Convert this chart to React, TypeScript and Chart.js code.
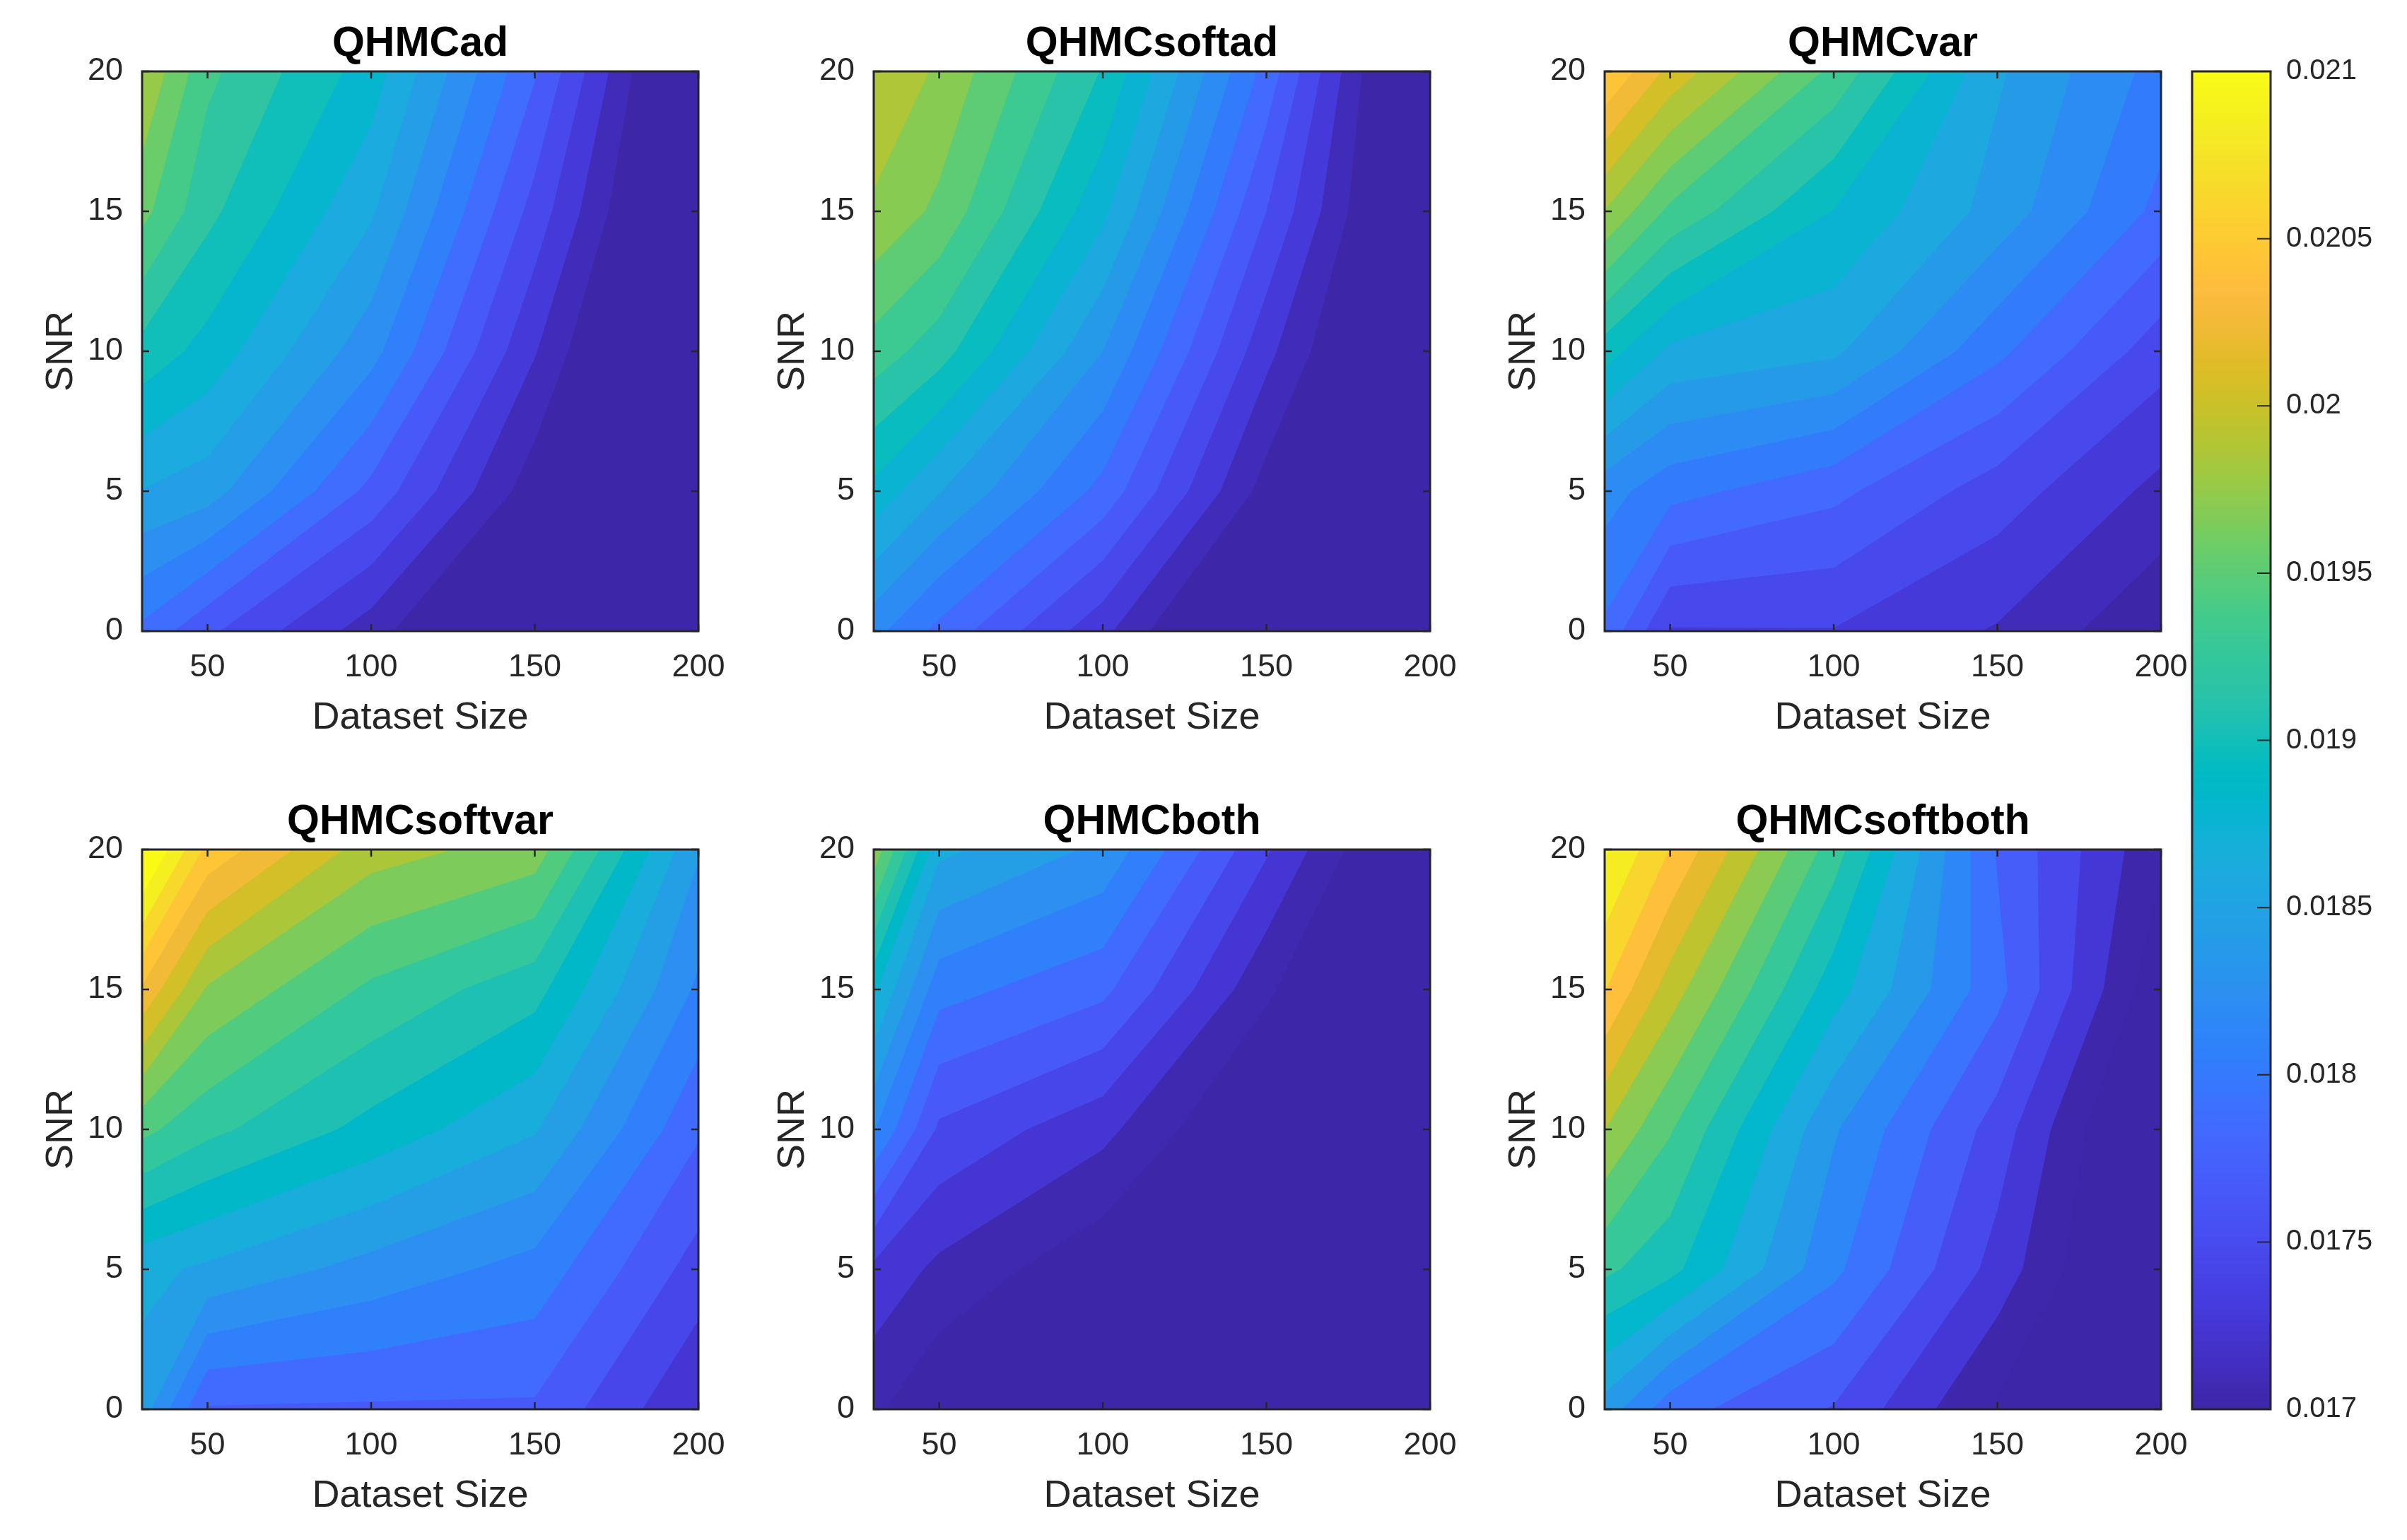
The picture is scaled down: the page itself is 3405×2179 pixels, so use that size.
import React, { useEffect, useRef } from "react";
import { Chart, registerables } from "chart.js";

Chart.register(...registerables);

const FONT = "'Liberation Sans', Arial, Helvetica, sans-serif";
const AXIS_COLOR = "#262626";

// ---------- data ----------
const DATASET_SIZES = [30, 50, 100, 150, 200];
const SNR_LEVELS = [0, 5, 10, 15, 20];
const X_TICKS = [50, 100, 150, 200];
const Y_TICKS = [0, 5, 10, 15, 20];
const CB_TICKS = [0.017, 0.0175, 0.018, 0.0185, 0.019, 0.0195, 0.02, 0.0205, 0.021];
const CB_TICK_LABELS = ["0.017", "0.0175", "0.018", "0.0185", "0.019", "0.0195", "0.02", "0.0205", "0.021"];
const C_MIN = 0.017;
const C_MAX = 0.021;

const TITLES = ["QHMCad", "QHMCsoftad", "QHMCvar", "QHMCsoftvar", "QHMCboth", "QHMCsoftboth"];

// rows: SNR 0, 5, 10, 15, 20 ; columns: dataset size 30, 50, 100, 150, 200
const QHMC_AD = [
  [0.018004, 0.01771, 0.017191, 0.01653, 0.01615],
  [0.018614, 0.018521, 0.017803, 0.016986, 0.01634],
  [0.019124, 0.018932, 0.018312, 0.017305, 0.016302],
  [0.019631, 0.019241, 0.018649, 0.017596, 0.016492],
  [0.019944, 0.019426, 0.018911, 0.017881, 0.016574],
];
const QHMC_SOFTAD = [
  [0.018271, 0.01797, 0.017339, 0.016508, 0.016175],
  [0.018898, 0.018591, 0.017964, 0.017019, 0.01636],
  [0.019427, 0.019218, 0.018395, 0.017341, 0.016453],
  [0.019844, 0.019646, 0.018811, 0.017655, 0.016545],
  [0.020042, 0.019845, 0.01912, 0.017957, 0.01649],
];
const QHMC_VAR = [
  [0.017988, 0.017452, 0.017461, 0.017267, 0.016941],
  [0.01829, 0.01809, 0.01789, 0.017563, 0.01723],
  [0.019039, 0.018726, 0.018617, 0.018071, 0.017551],
  [0.019868, 0.019459, 0.018944, 0.018506, 0.01797],
  [0.020619, 0.02019, 0.019453, 0.018608, 0.018136],
];
const QHMC_SOFTVAR = [
  [0.01855, 0.01783, 0.01782, 0.01782, 0.017258],
  [0.01871, 0.01861, 0.018374, 0.018176, 0.01756],
  [0.019506, 0.019304, 0.018984, 0.01867, 0.01788],
  [0.020424, 0.019824, 0.01941, 0.019124, 0.01821],
  [0.02135, 0.02059, 0.01994, 0.01976, 0.01847],
];
const QHMC_BOTH = [
  [0.01709, 0.016864, 0.01655, 0.01635, 0.01615],
  [0.0174, 0.017202, 0.016892, 0.01655, 0.01625],
  [0.01827, 0.017612, 0.01731, 0.016752, 0.01635],
  [0.01889, 0.018126, 0.017902, 0.01709, 0.01645],
  [0.01979, 0.0187, 0.018406, 0.017476, 0.01659],
];
const QHMC_SOFTBOTH = [
  [0.018504, 0.018011, 0.017684, 0.016994, 0.01647],
  [0.019319, 0.019118, 0.018204, 0.017388, 0.016515],
  [0.019946, 0.019516, 0.018401, 0.017601, 0.016537],
  [0.020625, 0.020054, 0.018921, 0.017998, 0.016851],
  [0.021098, 0.020607, 0.019378, 0.017908, 0.017068],
];

const SERIES = [QHMC_AD, QHMC_SOFTAD, QHMC_VAR, QHMC_SOFTVAR, QHMC_BOTH, QHMC_SOFTBOTH];
// contour level list of each panel: first level and spacing
const LEVEL_START = [0.0171, 0.0171, 0.0171, 0.01705, 0.01705, 0.01703];
const LEVEL_STEP = [0.00019, 0.000185, 0.000185, 0.0002, 0.0002, 0.000224];
const LEVEL_COUNT = 26;

// ---------- layout ----------
const PANEL_LEFT = [201, 1236, 2270, 201, 1236, 2270];
const PANEL_TOP = [101, 101, 101, 1202, 1202, 1202];
const PANEL_W = 787;
const PANEL_H = 792;
const PAD_LEFT = 200;
const PAD_TOP = 100;
const PAD_RIGHT = 75;
const PAD_BOTTOM = 160;

const CB_LEFT = 3101;
const CB_TOP = 101;
const CB_W = 111;
const CB_H = 1893;

// ---------- parula colormap ----------
const PARULA = [
  [0.2422, 0.1504, 0.6603], [0.2504, 0.165, 0.7076], [0.2578, 0.1818, 0.7511], [0.2647, 0.1978, 0.7952],
  [0.2706, 0.2147, 0.8364], [0.2751, 0.2342, 0.871], [0.2783, 0.2559, 0.8991], [0.2803, 0.2782, 0.9221],
  [0.2813, 0.3006, 0.9414], [0.281, 0.3228, 0.9579], [0.2795, 0.3447, 0.9717], [0.276, 0.3667, 0.9829],
  [0.2699, 0.3892, 0.9906], [0.2602, 0.4123, 0.9952], [0.244, 0.4358, 0.9988], [0.2206, 0.4603, 0.9973],
  [0.1963, 0.4847, 0.9892], [0.1834, 0.5074, 0.9798], [0.1786, 0.5289, 0.9682], [0.1764, 0.5499, 0.952],
  [0.1687, 0.5703, 0.9359], [0.154, 0.5902, 0.9218], [0.146, 0.6091, 0.9079], [0.138, 0.6276, 0.8973],
  [0.1248, 0.6459, 0.8883], [0.1113, 0.6635, 0.8763], [0.0952, 0.6798, 0.8598], [0.0689, 0.6948, 0.8394],
  [0.0297, 0.7082, 0.8163], [0.0036, 0.7203, 0.7917], [0.0067, 0.7312, 0.766], [0.0433, 0.7411, 0.7394],
  [0.0964, 0.75, 0.712], [0.1408, 0.7584, 0.6842], [0.1717, 0.767, 0.6554], [0.1938, 0.7758, 0.6251],
  [0.2161, 0.7843, 0.5923], [0.247, 0.7918, 0.5567], [0.2906, 0.7973, 0.5188], [0.3406, 0.8008, 0.4789],
  [0.3909, 0.8029, 0.4354], [0.4456, 0.8024, 0.3909], [0.5044, 0.7993, 0.348], [0.5616, 0.7942, 0.3045],
  [0.6174, 0.7876, 0.2612], [0.672, 0.7793, 0.2227], [0.7242, 0.7698, 0.191], [0.7738, 0.7598, 0.1646],
  [0.8203, 0.7498, 0.1535], [0.8634, 0.7406, 0.1596], [0.9035, 0.733, 0.1774], [0.9393, 0.7288, 0.21],
  [0.9728, 0.7298, 0.2394], [0.9956, 0.7434, 0.2371], [0.997, 0.7659, 0.2199], [0.9952, 0.7893, 0.2028],
  [0.9892, 0.8136, 0.1885], [0.9786, 0.8386, 0.1766], [0.9676, 0.8639, 0.1643], [0.961, 0.889, 0.1537],
  [0.9597, 0.9135, 0.1423], [0.9628, 0.9373, 0.1265], [0.9691, 0.9606, 0.1064], [0.9769, 0.9839, 0.0805],
];

function colorForIndex(i256: number): string {
  const i = Math.max(0, Math.min(255, i256));
  const p = (i / 255) * 63;
  const i0 = Math.floor(p);
  const i1 = Math.min(63, i0 + 1);
  const t = p - i0;
  const c = [0, 1, 2].map((k) => Math.round(255 * (PARULA[i0][k] * (1 - t) + PARULA[i1][k] * t)));
  return `rgb(${c[0]},${c[1]},${c[2]})`;
}

function colorForValue(v: number): string {
  const f = (v - C_MIN) / (C_MAX - C_MIN);
  return colorForIndex(Math.floor(f * 256));
}

type Pt = { x: number; y: number; v: number };

function clipAbove(poly: Pt[], level: number): Pt[] {
  const out: Pt[] = [];
  const n = poly.length;
  for (let i = 0; i < n; i++) {
    const a = poly[i];
    const b = poly[(i + 1) % n];
    const ina = a.v >= level;
    const inb = b.v >= level;
    if (ina) out.push(a);
    if (ina !== inb) {
      const t = (level - a.v) / (b.v - a.v);
      out.push({ x: a.x + t * (b.x - a.x), y: a.y + t * (b.y - a.y), v: level });
    }
  }
  return out;
}

function makeContourPlugin(panel: number) {
  const grid = SERIES[panel];
  const levels: number[] = [];
  for (let k = 0; k < LEVEL_COUNT; k++) levels.push(LEVEL_START[panel] + k * LEVEL_STEP[panel]);
  return {
    id: "contourFill" + panel,
    beforeDatasetsDraw(chart: any) {
      const { ctx, chartArea } = chart;
      const xs = chart.scales.x;
      const ys = chart.scales.y;
      ctx.save();
      ctx.beginPath();
      ctx.rect(chartArea.left, chartArea.top, chartArea.right - chartArea.left, chartArea.bottom - chartArea.top);
      ctx.clip();
      ctx.fillStyle = colorForValue(levels[0] - LEVEL_STEP[panel]);
      ctx.fillRect(chartArea.left, chartArea.top, chartArea.right - chartArea.left, chartArea.bottom - chartArea.top);
      for (const L of levels) {
        ctx.beginPath();
        let any = false;
        for (let j = 0; j < SNR_LEVELS.length - 1; j++) {
          for (let i = 0; i < DATASET_SIZES.length - 1; i++) {
            const quad: Pt[] = [
              { x: DATASET_SIZES[i], y: SNR_LEVELS[j], v: grid[j][i] },
              { x: DATASET_SIZES[i + 1], y: SNR_LEVELS[j], v: grid[j][i + 1] },
              { x: DATASET_SIZES[i + 1], y: SNR_LEVELS[j + 1], v: grid[j + 1][i + 1] },
              { x: DATASET_SIZES[i], y: SNR_LEVELS[j + 1], v: grid[j + 1][i] },
            ];
            const poly = clipAbove(quad, L);
            if (poly.length < 3) continue;
            any = true;
            poly.forEach((p, k) => {
              const px = xs.getPixelForValue(p.x);
              const py = ys.getPixelForValue(p.y);
              if (k === 0) ctx.moveTo(px, py);
              else ctx.lineTo(px, py);
            });
            ctx.closePath();
          }
        }
        if (any) {
          ctx.fillStyle = colorForValue(L);
          ctx.fill("nonzero");
        }
      }
      ctx.restore();
    },
    afterDatasetsDraw(chart: any) {
      const { ctx, chartArea } = chart;
      const xs = chart.scales.x;
      const ys = chart.scales.y;
      const { left, right, top, bottom } = chartArea;
      ctx.save();
      ctx.strokeStyle = AXIS_COLOR;
      ctx.lineWidth = 2.5;
      ctx.beginPath();
      for (const t of X_TICKS) {
        const px = xs.getPixelForValue(t);
        ctx.moveTo(px, bottom);
        ctx.lineTo(px, bottom - 10);
        ctx.moveTo(px, top);
        ctx.lineTo(px, top + 10);
      }
      for (const t of Y_TICKS) {
        const py = ys.getPixelForValue(t);
        ctx.moveTo(left, py);
        ctx.lineTo(left + 10, py);
        ctx.moveTo(right, py);
        ctx.lineTo(right - 10, py);
      }
      ctx.stroke();
      ctx.lineWidth = 3;
      ctx.strokeRect(left, top, right - left, bottom - top);
      ctx.restore();
    },
    afterDraw(chart: any) {
      const { ctx, chartArea } = chart;
      const { left, right, top, bottom } = chartArea;
      ctx.save();
      ctx.fillStyle = "#000000";
      ctx.textAlign = "center";
      ctx.textBaseline = "alphabetic";
      ctx.font = `bold 59px ${FONT}`;
      ctx.fillText(TITLES[panel], (left + right) / 2, top - 22);
      ctx.fillStyle = AXIS_COLOR;
      ctx.font = `54px ${FONT}`;
      ctx.fillText("Dataset Size", (left + right) / 2, bottom + 138);
      ctx.translate(left - 99, (top + bottom) / 2);
      ctx.rotate(-Math.PI / 2);
      ctx.fillText("SNR", 0, 0);
      ctx.restore();
    },
  };
}

function ContourPanel({ panel }: { panel: number }) {
  const ref = useRef<HTMLCanvasElement | null>(null);
  const w = PAD_LEFT + PANEL_W + PAD_RIGHT;
  const h = PAD_TOP + PANEL_H + PAD_BOTTOM;
  useEffect(() => {
    const canvas = ref.current;
    if (!canvas) return;
    const chart = new Chart(canvas, {
      type: "scatter",
      data: { datasets: [{ data: [], pointRadius: 0 }] },
      options: {
        responsive: false,
        animation: false,
        devicePixelRatio: 1,
        layout: { padding: { left: 0, top: PAD_TOP, right: PAD_RIGHT, bottom: 0 } },
        plugins: { legend: { display: false }, tooltip: { enabled: false }, title: { display: false } },
        scales: {
          x: {
            type: "linear",
            position: "bottom",
            min: 30,
            max: 200,
            grid: { display: false, drawTicks: false },
            border: { display: false },
            ticks: { color: AXIS_COLOR, font: { family: FONT, size: 45 }, padding: 25, autoSkip: false, maxRotation: 0 },
            afterBuildTicks: (s: any) => {
              s.ticks = X_TICKS.map((v) => ({ value: v }));
            },
            afterFit: (s: any) => {
              s.height = PAD_BOTTOM;
            },
          },
          y: {
            type: "linear",
            position: "left",
            min: 0,
            max: 20,
            grid: { display: false, drawTicks: false },
            border: { display: false },
            ticks: { color: AXIS_COLOR, font: { family: FONT, size: 45 }, padding: 27, autoSkip: false },
            afterBuildTicks: (s: any) => {
              s.ticks = Y_TICKS.map((v) => ({ value: v }));
            },
            afterFit: (s: any) => {
              s.width = PAD_LEFT;
            },
          },
        },
      } as any,
      plugins: [makeContourPlugin(panel)],
    });
    return () => chart.destroy();
  }, [panel]);
  return (
    <canvas
      ref={ref}
      width={w}
      height={h}
      style={{
        position: "absolute",
        left: PANEL_LEFT[panel] - PAD_LEFT,
        top: PANEL_TOP[panel] - PAD_TOP,
        width: w,
        height: h,
      }}
    />
  );
}

const colorbarPlugin = {
  id: "colorbarFill",
  beforeDatasetsDraw(chart: any) {
    const { ctx, chartArea } = chart;
    const ys = chart.scales.y;
    const { left, right, top, bottom } = chartArea;
    ctx.save();
    for (let i = 0; i < 256; i++) {
      const v0 = C_MIN + (i / 256) * (C_MAX - C_MIN);
      const v1 = C_MIN + ((i + 1) / 256) * (C_MAX - C_MIN);
      const y0 = ys.getPixelForValue(v0);
      const y1 = ys.getPixelForValue(v1);
      ctx.fillStyle = colorForIndex(i);
      ctx.fillRect(left, Math.min(y0, y1) - 0.5, right - left, Math.abs(y0 - y1) + 1);
    }
    ctx.strokeStyle = AXIS_COLOR;
    ctx.lineWidth = 2;
    ctx.beginPath();
    for (const t of CB_TICKS) {
      const py = ys.getPixelForValue(t);
      ctx.moveTo(right, py);
      ctx.lineTo(right - 19, py);
    }
    ctx.stroke();
    ctx.lineWidth = 3;
    ctx.strokeRect(left, top, right - left, bottom - top);
    ctx.restore();
  },
};

function Colorbar() {
  const ref = useRef<HTMLCanvasElement | null>(null);
  const padL = 10;
  const padT = 70;
  const padB = 70;
  const axisW = 190;
  const w = padL + CB_W + axisW;
  const h = padT + CB_H + padB;
  useEffect(() => {
    const canvas = ref.current;
    if (!canvas) return;
    const chart = new Chart(canvas, {
      type: "scatter",
      data: { datasets: [{ data: [], pointRadius: 0 }] },
      options: {
        responsive: false,
        animation: false,
        devicePixelRatio: 1,
        layout: { padding: { left: padL, top: padT, right: 0, bottom: padB } },
        plugins: { legend: { display: false }, tooltip: { enabled: false } },
        scales: {
          x: { type: "linear", display: false, min: 0, max: 1 },
          y: {
            type: "linear",
            position: "right",
            min: C_MIN,
            max: C_MAX,
            grid: { display: false, drawTicks: false },
            border: { display: false },
            ticks: {
              color: AXIS_COLOR,
              font: { family: FONT, size: 40 },
              padding: 22,
              autoSkip: false,
              callback: (_v: any, i: number) => CB_TICK_LABELS[i],
            },
            afterBuildTicks: (s: any) => {
              s.ticks = CB_TICKS.map((v) => ({ value: v }));
            },
            afterFit: (s: any) => {
              s.width = axisW;
            },
          },
        },
      } as any,
      plugins: [colorbarPlugin],
    });
    return () => chart.destroy();
  }, []);
  return (
    <canvas
      ref={ref}
      width={w}
      height={h}
      style={{ position: "absolute", left: CB_LEFT - padL, top: CB_TOP - padT, width: w, height: h }}
    />
  );
}

export default function App() {
  return (
    <div
      style={{
        position: "fixed",
        left: 0,
        top: 0,
        width: 3405,
        height: 2179,
        background: "#ffffff",
        overflow: "hidden",
      }}
    >
      {[0, 1, 2, 3, 4, 5].map((p) => (
        <ContourPanel key={p} panel={p} />
      ))}
      <Colorbar />
    </div>
  );
}
